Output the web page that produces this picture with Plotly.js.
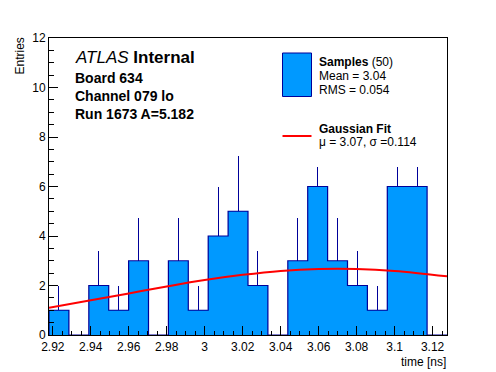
<!DOCTYPE html>
<html>
<head>
<meta charset="utf-8">
<script src="https://cdn.plot.ly/plotly-3.0.1.min.js"></script>
<style>html,body{margin:0;padding:0;background:#fff;}#chart{width:496px;height:372px;}</style>
</head>
<body>
<div id="chart"></div>
<script>
// ---- data ----
const binStart = 2.918;
const binWidth = 0.01048;
const counts = [1, 0, 2, 1, 3, 0, 3, 1, 4, 5, 2, 0, 3, 6, 3, 2, 1, 6, 6, 0];
const errors = [1, 0, 1.41, 1, 1.73, 0, 1.73, 1, 2, 2.24, 1.41, 0, 1.73, 2.45, 1.73, 1.41, 1, 2.45, 2.45, 0];
const fitX = [2.918, 2.94, 2.96, 2.98, 3.00, 3.02, 3.04, 3.06, 3.08, 3.10, 3.1276];
const fitY = [1.10, 1.40, 1.68, 1.96, 2.22, 2.43, 2.59, 2.67, 2.67, 2.59, 2.37];
const xTickVals = [2.92, 2.94, 2.96, 2.98, 3.00, 3.02, 3.04, 3.06, 3.08, 3.10, 3.12];
const xTickText = ['2.92', '2.94', '2.96', '2.98', '3', '3.02', '3.04', '3.06', '3.08', '3.1', '3.12'];
const yTickVals = [0, 2, 4, 6, 8, 10, 12];
const yTickText = ['0', '2', '4', '6', '8', '10', '12'];

// ---- derived from the data ----
const nb = counts.length;
const centers = counts.map((c, i) => binStart + (i + 0.5) * binWidth);
const edges = [];
for (let i = 0; i <= nb; i++) edges.push(binStart + i * binWidth);
const stepX = [edges[0]].concat(edges);
const stepY = [0].concat(counts).concat([0]);
const binEnd = edges[nb];

const FILL = '#0099ff', EDGE = '#000099';
const FONT = '"Liberation Sans", Arial, Helvetica, sans-serif';

// layout geometry (pixels)
const W = 496, H = 372, L = 49, R = 49, T = 38, B = 37;
const PW = W - L - R, PH = H - T - B;
const px = x => (x - L) / PW;
const py = y => 1 - (y - T) / PH;

function txt(text, x, yBase, size, anchor) {
  return {
    text: text, xref: 'paper', yref: 'paper',
    x: px(x), y: py(yBase - 0.34 * size),
    xanchor: anchor || 'left', yanchor: 'middle', borderpad: 0,
    showarrow: false, font: {family: FONT, size: size, color: '#000'}
  };
}

const traces = [
  {
    type: 'bar', x: centers, y: counts, width: binWidth,
    marker: {color: FILL, line: {width: 0}},
    error_y: {type: 'data', symmetric: false, array: errors, arrayminus: counts.map(() => 0),
              color: EDGE, thickness: 1, width: 0},
    hoverinfo: 'skip', showlegend: false
  },
  {
    type: 'scatter', mode: 'lines', x: stepX, y: stepY,
    line: {shape: 'hv', color: EDGE, width: 1.2},
    hoverinfo: 'skip', showlegend: false
  },
  {
    type: 'scatter', mode: 'lines', x: fitX, y: fitY,
    line: {shape: 'spline', color: '#ff0000', width: 2},
    hoverinfo: 'skip', showlegend: false
  }
];

const layout = {
  width: W, height: H,
  margin: {l: L, r: R, t: T, b: B, pad: 0},
  paper_bgcolor: '#fff', plot_bgcolor: '#fff',
  bargap: 0, showlegend: false,
  font: {family: FONT, size: 12, color: '#000'},
  xaxis: {
    range: [binStart, binEnd], showgrid: false, zeroline: false,
    showline: true, mirror: true, linecolor: '#000', linewidth: 1,
    ticks: 'inside', ticklen: 9, tickcolor: '#000', tickwidth: 1,
    tickvals: xTickVals, ticktext: xTickText, ticklabelstandoff: 1,
    tickfont: {family: FONT, size: 12, color: '#000'},
    minor: {ticks: 'inside', ticklen: 4.5, dtick: 0.005, tick0: 2.92, tickcolor: '#000', showgrid: false}
  },
  yaxis: {
    range: [0, 12], showgrid: false, zeroline: false,
    showline: true, mirror: true, linecolor: '#000', linewidth: 1,
    ticks: 'inside', ticklen: 9, tickcolor: '#000', tickwidth: 1,
    tickvals: yTickVals, ticktext: yTickText,
    tickfont: {family: FONT, size: 12, color: '#000'},
    minor: {ticks: 'inside', ticklen: 4.5, dtick: 0.5, tick0: 0, tickcolor: '#000', showgrid: false}
  },
  shapes: [
    // white legend pad covering the histogram behind it
    {type: 'rect', xref: 'paper', yref: 'paper', layer: 'above', x0: px(276), x1: px(445.5), y0: py(167), y1: py(38.5),
     fillcolor: '#ffffff', line: {width: 0}},
    {type: 'rect', xref: 'paper', yref: 'paper', layer: 'above', x0: px(282.5), x1: px(311.5), y0: py(96.5), y1: py(53),
     fillcolor: FILL, line: {color: EDGE, width: 1}},
    {type: 'line', xref: 'paper', yref: 'paper', layer: 'above', x0: px(282.5), x1: px(311.5), y0: py(136), y1: py(136),
     line: {color: '#ff0000', width: 2}}
  ],
  annotations: [
    txt('<i>ATLAS</i> <b>Internal</b>', 73.5, 63.5, 17),
    txt('<b>Board 634</b>', 74, 82.5, 14),
    txt('<b>Channel 079 lo</b>', 74, 100.5, 14),
    txt('<b>Run 1673 A=5.182</b>', 74, 118.5, 14),
    txt('<b>Samples</b> (50)', 317.5, 66, 12),
    txt('Mean = 3.04', 317.5, 80.5, 12),
    txt('RMS = 0.054', 317.5, 94, 12),
    txt('<b>Gaussian Fit</b>', 317.5, 132.7, 12),
    txt('\u03bc = 3.07, \u03c3 =0.114', 317.5, 146, 12),
    txt('time [ns]', 446.5, 366, 12, 'right'),
    {text: 'Entries', xref: 'paper', yref: 'paper', x: px(19.5), y: py(56), xanchor: 'center', yanchor: 'middle',
     textangle: -90, showarrow: false, font: {family: FONT, size: 12, color: '#000'}}
  ]
};

Plotly.newPlot('chart', traces, layout, {displayModeBar: false, staticPlot: true});
</script>
</body>
</html>
